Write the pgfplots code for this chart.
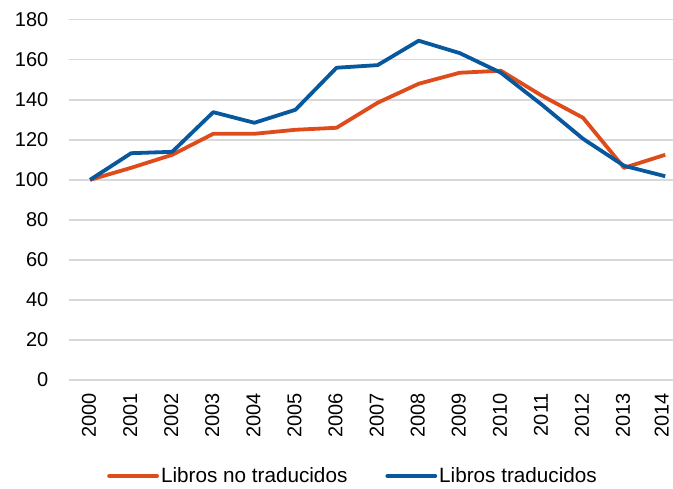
\documentclass[border=0pt]{standalone}
\usepackage{fontspec}
\setmainfont{Liberation Sans}
\usepackage{pgfplots}
\pgfplotsset{compat=1.18}
\definecolor{cor}{RGB}{222,76,28}
\definecolor{cbl}{RGB}{8,88,158}
\definecolor{grd}{RGB}{217,217,217}
\begin{document}
\fontsize{20}{24}\selectfont
\begin{tikzpicture}
\useasboundingbox (-69.5pt,-109pt) rectangle (603.5pt,380pt);
\begin{axis}[
  at={(0pt,0pt)}, anchor=south west,
  scale only axis,
  width=603.5pt, height=360.3pt,
  xmin=-0.5, xmax=14.19,
  ymin=0, ymax=180,
  ytick={0,20,...,180},
  xtick={0,...,13},
  xticklabels={2000,2001,2002,2003,2004,2005,2006,2007,2008,2009,2010,2011,2012,2013},
  extra x ticks={14},
  extra x tick labels={2014},
  extra x tick style={x tick label style={yshift=2.5pt}},
  axis line style={draw=none},
  major tick style={draw=none},
  ymajorgrids,
  grid style={grd, line width=1.5pt},
  /pgf/number format/assume math mode=true,
  /pgf/number format/1000 sep={},
  tick label style={font=\fontsize{20}{24}\selectfont, inner sep=0pt},
  x tick label style={rotate=90, anchor=east, yshift=1pt},
  y tick label style={anchor=east},
  xticklabel shift=13pt,
  yticklabel shift=21pt,
  clip=false,
  legend columns=2,
  legend style={at={(0.4698,-0.2665)}, anchor=center, draw=none, fill=none,
    font=\fontsize{20.7}{24}\selectfont, inner sep=0pt,
    /tikz/every even column/.append style={column sep=36pt}},
  legend image code/.code={\draw[#1, line cap=round] (0pt,0pt) -- (48pt,0pt);},
  legend cell align=left,
]
\addplot[cor, line width=3.8pt, line join=round] coordinates {
(0,100) (1,106) (2,112.5) (3,123) (4,123) (5,125) (6,126) (7,138.5) (8,148) (9,153.5) (10,154.5) (11,142) (12,131) (13,106) (14,112.5)};
\addlegendentry{Libros no traducidos}
\addplot[cbl, line width=3.8pt, line join=round] coordinates {
(0,100) (1,113.3) (2,114) (3,133.8) (4,128.5) (5,135) (6,156) (7,157.3) (8,169.5) (9,163.3) (10,153.5) (11,137.5) (12,120.5) (13,107) (14,101.8)};
\addlegendentry{Libros traducidos}
\end{axis}
\end{tikzpicture}
\end{document}
